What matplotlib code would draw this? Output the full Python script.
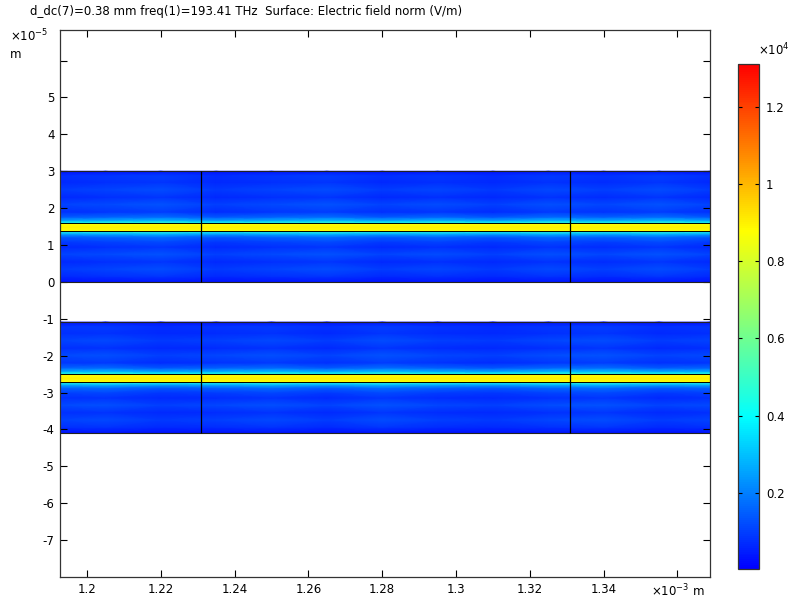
import numpy as np
import matplotlib
matplotlib.use("Agg")
import matplotlib.pyplot as plt
from matplotlib.colors import LinearSegmentedColormap

# ---- data ----------------------------------------------------------------
# x in 1e-3 m, y in 1e-5 m, field in 1e4 V/m
x_nodes = [1.1927, 1.205, 1.22, 1.235, 1.25, 1.265, 1.28, 1.295, 1.31,
           1.325, 1.34, 1.355, 1.3689]

band_bottoms = [0.0, -4.09]          # two slabs, each 3.0 thick
band_thick = 3.0
core_lo, core_hi = 1.38, 1.59       # core edges, offset from slab bottom
cut_x = [1.231, 1.331]              # vertical domain boundaries

# transverse profile (offset from slab bottom)
y_off = [0.00, 0.15, 0.35, 0.55, 0.75, 0.95, 1.10, 1.22, 1.30, 1.375, 1.385,
         1.48, 1.585, 1.595, 1.67, 1.76, 1.90, 2.10, 2.30, 2.50, 2.70, 2.88, 3.00]
e_bg = [0.03, 0.07, 0.10, 0.07, 0.11, 0.07, 0.10, 0.12, 0.14, 0.15, 0.0,
        0.0, 0.0, 0.15, 0.14, 0.12, 0.08, 0.11, 0.07, 0.10, 0.07, 0.08, 0.03]
e_core = [0.0, 0.0, 0.0, 0.0, 0.0, 0.0, 0.0, 0.03, 0.12, 0.30, 0.87,
          0.90, 0.87, 0.30, 0.12, 0.03, 0.0, 0.0, 0.0, 0.0, 0.0, 0.0, 0.0]

# brightness of the background along x, per slab
gain_top = [0.95, 1.05, 1.20, 0.90, 1.05, 1.20, 0.95, 1.10, 0.90, 1.15,
            1.00, 1.20, 0.95]
gain_bot = [1.05, 1.15, 0.90, 1.00, 1.15, 0.95, 1.20, 1.00, 0.90, 1.10,
            1.20, 0.95, 1.05]

x_ticks = [1.20, 1.22, 1.24, 1.26, 1.28, 1.30, 1.32, 1.34, 1.36]
x_labels = ["1.2", "1.22", "1.24", "1.26", "1.28", "1.3", "1.32", "1.34",
            r"$\times$10$^{-3}$ m"]
y_ticks = [-7, -6, -5, -4, -3, -2, -1, 0, 1, 2, 3, 4, 5, 6]
y_labels = ["-7", "-6", "-5", "-4", "-3", "-2", "-1", "0", "1", "2", "3",
            "4", "5", ""]
cb_ticks = [0.2, 0.4, 0.6, 0.8, 1.0, 1.2]
cb_labels = ["0.2", "0.4", "0.6", "0.8", "1", "1.2"]
vmin, vmax = 0.0013, 1.312

title = "d_dc(7)=0.38 mm freq(1)=193.41 THz  Surface: Electric field norm (V/m)"

# ---- plot ------------------------------------------------------------------
plt.rcParams["font.family"] = "DejaVu Sans"
plt.rcParams["font.size"] = 8.5

rainbow = LinearSegmentedColormap.from_list(
    "rainbow_c", [(0.0, (0, 0, 1)), (0.30, (0, 1, 1)), (0.48, (0.5, 1, 0.5)),
                  (0.67, (1, 1, 0)), (1.0, (1, 0, 0))])

fig = plt.figure(figsize=(7.95, 6.02), dpi=100)
ax = fig.add_axes([60 / 795, 25 / 602, 650.3 / 795, 547 / 602])
cax = fig.add_axes([738.3 / 795, 32.7 / 602, 20.7 / 795, 505.3 / 602])

xs = np.array(x_nodes)
yo = np.array(y_off)
for bottom, gain in zip(band_bottoms, [gain_top, gain_bot]):
    X, Y = np.meshgrid(xs, bottom + yo)
    C = np.array(e_core)[:, None] + np.array(e_bg)[:, None] * np.array(gain)[None, :]
    mesh = ax.pcolormesh(X, Y, C, shading="gouraud", cmap=rainbow,
                         vmin=vmin, vmax=vmax, rasterized=True)
    # slab outline, core edges, domain cuts
    ax.hlines([bottom, bottom + band_thick], xs[0], xs[-1],
              colors="#222222", lw=0.8, zorder=3)
    ax.hlines([bottom + core_lo, bottom + core_hi], xs[0], xs[-1],
              colors="black", lw=0.7, zorder=3)
    ax.vlines(cut_x, bottom, bottom + band_thick, colors="black", lw=0.9,
              zorder=3)

ax.set_xlim(x_nodes[0], x_nodes[-1])
ax.set_ylim(-8.0, 6.83)
ax.set_xticks(x_ticks)
ax.set_xticklabels(x_labels)
ax.set_yticks(y_ticks)
ax.set_yticklabels(y_labels)
ax.tick_params(direction="in", length=5, width=0.8, top=True, right=True,
               labelsize=8.5, pad=4)
for sp in ax.spines.values():
    sp.set_color("#333333")
    sp.set_linewidth(0.9)

fig.text(10 / 795, 1 - 36 / 602, r"$\times$10$^{-5}$", fontsize=8.5,
         va="center", ha="left")
fig.text(10 / 795, 1 - 55 / 602, "m", fontsize=8.5, va="center", ha="left")
fig.text(30 / 795, 1 - 12 / 602, title, fontsize=8.5, va="center", ha="left")

cb = fig.colorbar(mesh, cax=cax)
cb.set_ticks(cb_ticks)
cb.set_ticklabels(cb_labels)
cax.tick_params(direction="in", length=3, width=0.8, left=True, right=True,
                labelsize=8.5, pad=5)
cb.outline.set_edgecolor("#333333")
cb.outline.set_linewidth(0.9)
fig.text(758 / 795, 1 - 50 / 602, r"$\times$10$^{4}$", fontsize=8.5,
         va="center", ha="left")

fig.savefig("out.png", dpi=100)
